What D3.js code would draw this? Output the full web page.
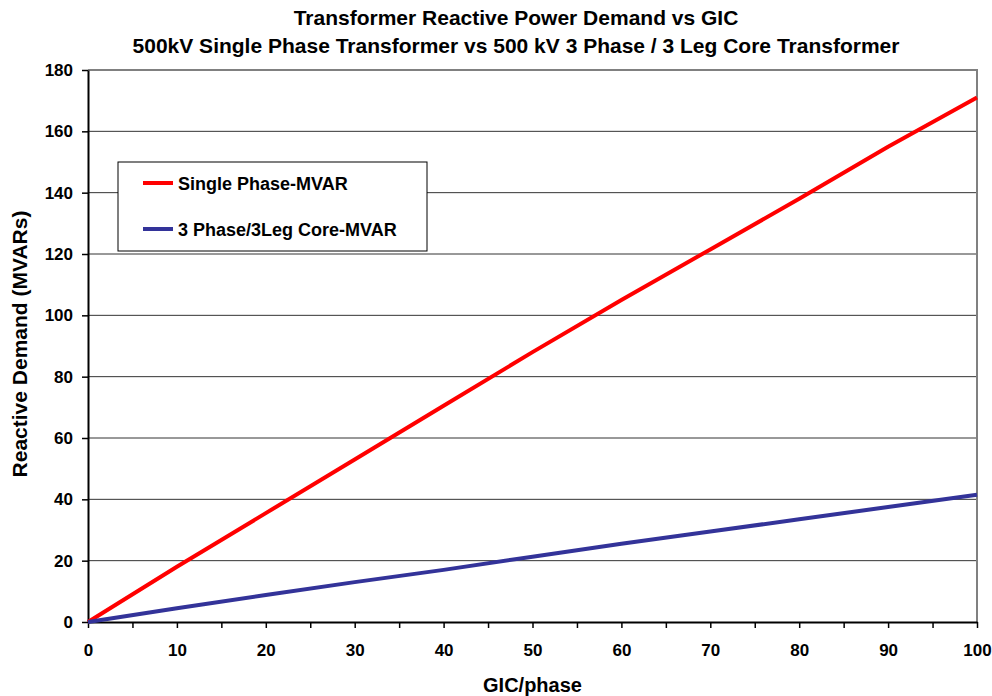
<!DOCTYPE html>
<html lang="en">
<head>
  <meta charset="UTF-8">
  <title>Transformer Reactive Power Demand vs GIC</title>
  <script src="https://d3js.org/d3.v7.min.js"></script>
  <style>
    body { margin: 0; background: #fff; font-family: "Liberation Sans", Arial, sans-serif; }
    text { font-weight: bold; fill: #000; }
  </style>
</head>
<body>
  <svg width="992" height="696"></svg>
  <script>
    // GIC per phase (x) and MVAR readings for both transformer types
    const gic = [0, 10, 20, 30, 40, 50, 60, 70, 80, 90, 100];
    const singlePhase = [0, 18, 35.5, 53, 70.5, 88, 105, 121.5, 138, 155, 171];
    const threePhase = [0, 4.5, 8.8, 13, 17, 21.3, 25.5, 29.5, 33.5, 37.5, 41.5];
    const seriesNames = ["Single Phase-MVAR", "3 Phase/3Leg Core-MVAR"];
    const seriesColors = ["#ff0000", "#333399"];
    const yTicks = d3.range(0, 181, 20);

    const svg = d3.select("svg");
    const margin = { left: 88, right: 977, top: 70, bottom: 622 };

    const x = d3.scaleLinear().domain([0, 100]).range([margin.left, margin.right]);
    const y = d3.scaleLinear().domain([0, 180]).range([margin.bottom, margin.top]);

    // Titles
    svg.append("text").attr("x", 516).attr("y", 25).attr("text-anchor", "middle")
      .attr("font-size", "21px").text("Transformer Reactive Power Demand vs GIC");
    svg.append("text").attr("x", 516).attr("y", 53).attr("text-anchor", "middle")
      .attr("font-size", "21px").text("500kV Single Phase Transformer vs 500 kV 3 Phase / 3 Leg Core Transformer");

    // Gridlines
    svg.append("g").selectAll("line")
      .data(yTicks.filter(d => d > 0 && d < 180))
      .join("line")
      .attr("x1", margin.left).attr("x2", margin.right)
      .attr("y1", d => y(d)).attr("y2", d => y(d))
      .attr("stroke", "#333").attr("stroke-width", 1);

    // Plot frame: top and right grey
    svg.append("path")
      .attr("d", `M${margin.left},${margin.top}H${margin.right}V${margin.bottom}`)
      .attr("fill", "none").attr("stroke", "#808080").attr("stroke-width", 2);

    // Axes
    const xAxis = svg.append("g")
      .attr("transform", `translate(0,${margin.bottom})`)
      .call(d3.axisBottom(x).tickValues(d3.range(0, 101, 5)).tickSize(6).tickSizeOuter(0)
        .tickFormat(d => d % 10 === 0 ? d : ""));
    xAxis.select(".domain").attr("stroke", "#000").attr("stroke-width", 2);
    xAxis.selectAll("line").attr("stroke", "#000").attr("stroke-width", 1.5);
    xAxis.selectAll("text").attr("font-size", "17px").attr("font-family", "Liberation Sans, Arial, sans-serif")
      .attr("font-weight", "bold").attr("y", 22).attr("dy", "0.71em");

    const yAxis = svg.append("g")
      .attr("transform", `translate(${margin.left},0)`)
      .call(d3.axisLeft(y).tickValues(yTicks).tickSize(6).tickSizeOuter(0));
    yAxis.select(".domain").attr("stroke", "#000").attr("stroke-width", 2);
    yAxis.selectAll("line").attr("stroke", "#000").attr("stroke-width", 1.5);
    yAxis.selectAll("text").attr("font-size", "17px").attr("font-family", "Liberation Sans, Arial, sans-serif")
      .attr("font-weight", "bold").attr("x", -15);

    // Axis titles
    svg.append("text").attr("x", (margin.left + margin.right) / 2).attr("y", 692)
      .attr("text-anchor", "middle").attr("font-size", "20px").text("GIC/phase");
    svg.append("text")
      .attr("transform", `translate(27,${(margin.top + margin.bottom) / 2 - 2}) rotate(-90)`)
      .attr("text-anchor", "middle").attr("font-size", "21px").text("Reactive Demand (MVARs)");

    // Lines
    const line = d3.line().x((d, i) => x(gic[i])).y(d => y(d));
    [singlePhase, threePhase].forEach((vals, k) => {
      svg.append("path").datum(vals)
        .attr("d", line)
        .attr("fill", "none")
        .attr("stroke", seriesColors[k])
        .attr("stroke-width", 4)
        .attr("stroke-linejoin", "round");
    });

    // Legend
    const legend = svg.append("g");
    legend.append("rect").attr("x", 118).attr("y", 162).attr("width", 309).attr("height", 89)
      .attr("fill", "#fff").attr("stroke", "#000").attr("stroke-width", 1);
    seriesNames.forEach((name, k) => {
      const ly = 183 + k * 46;
      legend.append("line").attr("x1", 143).attr("x2", 173).attr("y1", ly).attr("y2", ly)
        .attr("stroke", seriesColors[k]).attr("stroke-width", 4);
      legend.append("text").attr("x", 178).attr("y", ly + 6.5).attr("font-size", "18px").text(name);
    });
  </script>
</body>
</html>
